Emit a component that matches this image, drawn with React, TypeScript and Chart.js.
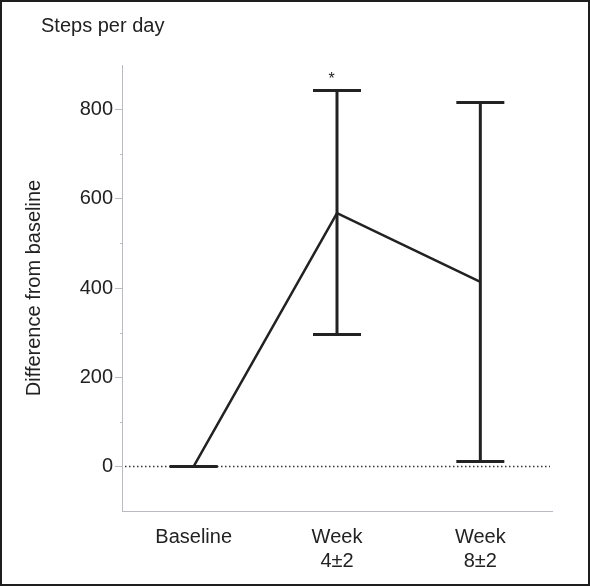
import React, { useEffect, useRef } from "react";
import { Chart, registerables } from "chart.js";

Chart.register(...registerables);

const categories: (string | string[])[] = ["Baseline", ["Week", "4±2"], ["Week", "8±2"]];
const meanValues = [0, 568, 414];
const lowerValues = [0, 296, 11];
const upperValues = [0, 843, 816];
const markers = ["", "*", ""];
const yTickValues = [0, 200, 400, 600, 800];
const yMinorTickValues = [100, 300, 500, 700];
const chartTitle = "Steps per day";
const yAxisTitle = "Difference from baseline";

const FONT = "'Liberation Sans', Arial, sans-serif";
const INK = "#222222";
const AXIS = "#b9bac2";

const overlayPlugin = {
  id: "overlay",
  beforeDatasetsDraw(chart: any) {
    const { ctx, chartArea, scales } = chart;
    const y0 = scales.y.getPixelForValue(0);
    ctx.save();
    ctx.strokeStyle = "#333333";
    ctx.lineWidth = 1.5;
    ctx.setLineDash([1.5, 2.5]);
    ctx.beginPath();
    ctx.moveTo(chartArea.left + 3, y0);
    ctx.lineTo(chartArea.right - 2, y0);
    ctx.stroke();
    ctx.setLineDash([]);
    // minor ticks
    ctx.strokeStyle = AXIS;
    ctx.lineWidth = 1;
    yMinorTickValues.forEach((v) => {
      const py = Math.round(scales.y.getPixelForValue(v)) + 0.5;
      ctx.beginPath();
      ctx.moveTo(chartArea.left - 2, py);
      ctx.lineTo(chartArea.left, py);
      ctx.stroke();
    });
    // title
    ctx.fillStyle = INK;
    ctx.font = `20px ${FONT}`;
    ctx.textAlign = "left";
    ctx.textBaseline = "alphabetic";
    ctx.fillText(chartTitle, 41, 32);
    ctx.restore();
  },
  afterDatasetsDraw(chart: any) {
    const { ctx, scales } = chart;
    ctx.save();
    ctx.strokeStyle = INK;
    ctx.lineWidth = 3;
    const half = 24;
    meanValues.forEach((_, i) => {
      const px = scales.x.getPixelForValue(i);
      const lo = scales.y.getPixelForValue(lowerValues[i]);
      const hi = scales.y.getPixelForValue(upperValues[i]);
      ctx.beginPath();
      ctx.moveTo(px, lo);
      ctx.lineTo(px, hi);
      ctx.moveTo(px - half, lo);
      ctx.lineTo(px + half, lo);
      ctx.moveTo(px - half, hi);
      ctx.lineTo(px + half, hi);
      ctx.stroke();
      if (markers[i]) {
        ctx.fillStyle = INK;
        ctx.font = `16px ${FONT}`;
        ctx.textAlign = "center";
        ctx.textBaseline = "alphabetic";
        ctx.fillText(markers[i], px - 5.5, hi - 6);
      }
    });
    ctx.restore();
  },
};

export default function App() {
  const ref = useRef<HTMLCanvasElement | null>(null);
  useEffect(() => {
    if (!ref.current) return;
    const chart = new Chart(ref.current, {
      type: "line",
      data: {
        labels: categories as any,
        datasets: [
          {
            data: meanValues,
            borderColor: INK,
            borderWidth: 2.5,
            pointRadius: 0,
            tension: 0,
            fill: false,
          },
        ],
      },
      options: {
        animation: false,
        responsive: false,
        maintainAspectRatio: false,
        layout: { padding: { left: 0, top: 65, right: 38, bottom: 0 } },
        plugins: {
          legend: { display: false },
          tooltip: { enabled: false },
          title: { display: false },
        },
        scales: {
          x: {
            type: "category",
            offset: true,
            afterFit: (s: any) => {
              s.height = 75;
            },
            grid: { display: false, drawTicks: false },
            border: { display: true, color: AXIS, width: 1 },
            ticks: {
              color: INK,
              padding: 14,
              maxRotation: 0,
              autoSkip: false,
              font: { family: FONT, size: 20 },
            },
          },
          y: {
            type: "linear",
            min: -100,
            max: 900,
            afterFit: (s: any) => {
              s.width = 122;
            },
            afterBuildTicks: (s: any) => {
              s.ticks = yTickValues.map((v) => ({ value: v }));
            },
            grid: {
              drawOnChartArea: false,
              drawTicks: true,
              tickLength: 7,
              color: AXIS,
            },
            border: { display: true, color: AXIS, width: 1 },
            ticks: {
              color: INK,
              padding: 2,
              font: { family: FONT, size: 20 },
            },
            title: {
              display: true,
              text: yAxisTitle,
              color: INK,
              font: { family: FONT, size: 20 },
              padding: { top: 22, bottom: 0 },
            },
          },
        },
      },
      plugins: [overlayPlugin],
    } as any);
    return () => chart.destroy();
  }, []);

  return (
    <div style={{ position: "fixed", left: 0, top: 0, width: 590, height: 586, background: "#fff" }}>
      <canvas ref={ref} width={590} height={586} style={{ position: "absolute", left: 0, top: 0, width: 590, height: 586 }} />
      <div
        style={{
          position: "absolute",
          left: 0,
          top: 0,
          width: 590,
          height: 586,
          boxSizing: "border-box",
          border: "2px solid #1e1e1e",
          pointerEvents: "none",
        }}
      />
    </div>
  );
}
